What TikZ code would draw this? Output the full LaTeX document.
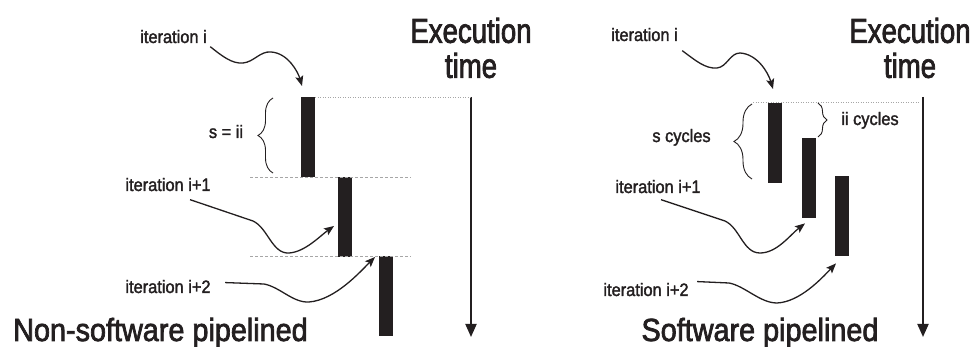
\documentclass[tikz,border=0pt]{standalone}
\usepackage{fontspec}
\setmainfont{Liberation Sans}
\newfontfamily\labelfont[FakeStretch=0.91, FakeBold=1.8]{Liberation Sans}
\newfontfamily\titlefont[FakeStretch=0.9, FakeBold=2.2]{Liberation Sans}
\newfontfamily\execfont[FakeStretch=0.8, FakeBold=2.2]{Liberation Sans}
\usetikzlibrary{arrows.meta,decorations.pathreplacing}
\definecolor{ink}{HTML}{231F20}

\tikzset{
  bar/.style={fill=ink, draw=none, inner sep=0pt, minimum width=14pt, minimum height=80pt, anchor=north west},
  lbl/.style={text=ink, inner sep=3.3pt, anchor=base, font=\labelfont\fontsize{18}{20}\selectfont},
  big/.style={text=ink, inner sep=0pt, font=\titlefont\fontsize{32}{35}\selectfont},
  exec/.style={text=ink, inner sep=0pt, align=center, font=\execfont\fontsize{34.5}{35}\selectfont},
  curvy/.style={draw=ink, line width=1.3pt, -{Stealth[length=10pt,width=8pt,inset=2pt]}},
  timeline/.style={draw=ink, line width=1.9pt, -{Triangle[length=13pt,width=11pt]}},
  griddots/.style={draw=gray!70, line width=0.5pt, dotted},
  griddash/.style={draw=gray!70, line width=0.6pt, dash pattern=on 3pt off 2pt},
  brc/.style={draw=ink, line width=0.9pt, decorate, decoration={brace, amplitude=#1}},
}

\begin{document}
\begin{tikzpicture}[x=1pt, y=-1pt]
        \useasboundingbox (0,0) rectangle (975,347);

        % non-software pipelined
        \node[bar] (L1) at (301,97) {};
        \node[bar] (L2) at (338,177) {};
        \node[bar] (L3) at (379,256) {};

        \coordinate (Ltop) at (471,97);
        \coordinate (Lbot) at (471,337);
        \draw[timeline] (Ltop) -- (Lbot);
        \draw[griddots] (L1.north east) -- (Ltop);

        \coordinate (LdashA) at (250,177);
        \coordinate (LdashB) at (411,177);
        \draw[griddash] (LdashA) -- (LdashB);
        \coordinate (LdashC) at (250,256);
        \coordinate (LdashD) at (411,256);
        \draw[griddash] (LdashC) -- (LdashD);

        \node[exec] (Lexec) at (471,48) {Execution\\time};
        \node[big, anchor=base] (Ltitle) at (160.5,341) {Non-software pipelined};

        \node[lbl] (Lit1) at (173.5,43) {iteration i};
        \node[lbl] (Lit2) at (168,191) {iteration i+1};
        \node[lbl] (Lit3) at (168,293) {iteration i+2};
        \node[lbl] (Ls) at (226,138) {s = ii};

        \draw[brc=15pt] (273,173) -- (273,98);

        \draw[curvy] (Lit1.south east) .. controls (222,56) and (232,64) .. (243,63)
          .. controls (254,62) and (260,51) .. (271,52)
          .. controls (288,53) and (298,72) .. ([shift={(1,-11)}]L1.north west);
        \draw[curvy] ([shift={(-24,5)}]Lit2.south east) -- (253,221)
          .. controls (268,228) and (272,254) .. (289,253)
          .. controls (305,252) and (320,236) .. ([shift={(-4,49)}]L2.north west);
        \draw[curvy] ([shift={(11,-4)}]Lit3.east) -- (264,284)
          .. controls (280,287) and (293,303) .. (309,302)
          .. controls (335,300) and (360,272) .. ([shift={(-4,1)}]L3.north west);

        % software pipelined
        \node[bar] (R1) at (768,103) {};
        \node[bar] (R2) at (802,138) {};
        \node[bar] (R3) at (835,176) {};

        \coordinate (Rtop) at (923,97);
        \coordinate (Rbot) at (923,337);
        \draw[timeline] (Rtop) -- (Rbot);
        \coordinate (RdotA) at (753,102);
        \coordinate (RdotB) at (920,102);
        \draw[griddots] (RdotA) -- (RdotB);

        \node[exec] (Rexec) at (910,48) {Execution\\time};
        \node[big, anchor=base] (Rtitle) at (760,341) {Software pipelined};

        \node[lbl] (Rit1) at (644.5,41) {iteration i};
        \node[lbl] (Rit2) at (658,193) {iteration i+1};
        \node[lbl] (Rit3) at (646,296) {iteration i+2};
        \node[lbl] (Rs) at (681.5,142) {s cycles};
        \node[lbl] (Rii) at (870,125) {ii cycles};

        \draw[brc=18pt] (752,179) -- (752,104);
        \draw[brc=9pt] (818,103) -- (818,137);

        \draw[curvy] ([shift={(1,6)}]Rit1.south east) .. controls (695,60) and (705,69) .. (717,68)
          .. controls (727,67) and (730,53) .. (740,53)
          .. controls (757,54) and (768,72) .. ([shift={(5,-14)}]R1.north west);
        \draw[curvy] ([shift={(-43,3)}]Rit2.south east) -- (725,221)
          .. controls (740,228) and (743,253) .. (760,253)
          .. controls (777,253) and (790,235) .. ([shift={(3,5)}]R2.south west);
        \draw[curvy] ([shift={(5,-8)}]Rit3.east) -- (729,283)
          .. controls (745,286) and (760,303) .. (777,303)
          .. controls (800,302) and (822,278) .. ([shift={(1,7)}]R3.south west);
\end{tikzpicture}
\end{document}
